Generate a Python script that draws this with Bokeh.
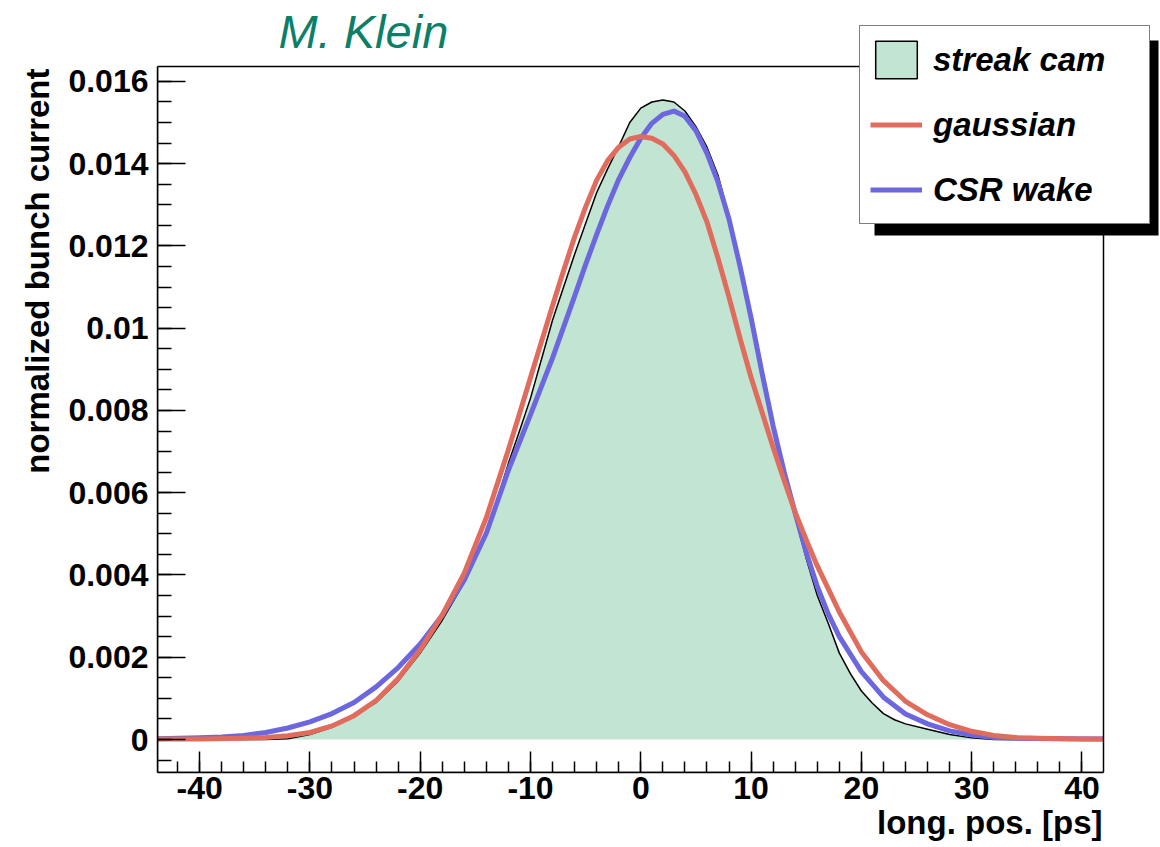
import math
from bokeh.plotting import figure
from bokeh.models import (Range1d, SingleIntervalTicker, CustomJSTickFormatter,
                          Legend, LegendItem, BoxAnnotation, Label, Title)
from bokeh.embed import file_html
from bokeh.resources import INLINE

# ---------------- data ----------------
streak_x = [-43.8, -34, -32, -30, -28, -26, -24, -22, -20, -18, -16, -15, -14, -13,
            -12, -11, -10, -9, -8, -7, -6, -5, -4, -3, -2, -1, 0, 1, 2, 3, 4, 5, 6,
            7, 8, 9, 10, 11, 12, 13, 14, 15, 16, 17, 18, 19, 20, 21, 22, 23, 24, 26,
            28, 30, 32, 41.9]
streak_y = [0, 0, 0.00002, 0.00012, 0.00030, 0.00058, 0.00090, 0.00142, 0.00210,
            0.00290, 0.00382, 0.00440, 0.00500, 0.00585, 0.00672, 0.00750, 0.00830,
            0.00925, 0.01020, 0.01100, 0.01180, 0.01255, 0.01330, 0.01388, 0.01442,
            0.01500, 0.01535, 0.01550, 0.01555, 0.01550, 0.01528, 0.01490, 0.01440,
            0.01372, 0.01270, 0.01162, 0.01030, 0.00885, 0.00752, 0.00642, 0.00540,
            0.00440, 0.00350, 0.00282, 0.00210, 0.00160, 0.00118, 0.00088, 0.00063,
            0.00048, 0.00038, 0.00025, 0.00012, 0.00004, 0, 0]

gauss_x = [-43.8, -40, -36, -34, -32, -30, -28, -26, -24, -22, -20, -18, -16, -14,
           -12, -11, -10, -9, -8, -7, -6, -5, -4, -3, -2, -1, 0, 1, 2, 3, 4, 5, 6,
           7, 8, 9, 10, 11, 12, 13, 14, 15, 16, 18, 20, 22, 24, 26, 28, 30, 32, 34,
           36, 40, 41.9]
gauss_y = [0.00001, 0.00001, 0.00003, 0.00005, 0.00009, 0.00017, 0.00033, 0.00058,
           0.00095, 0.00148, 0.00218, 0.00303, 0.00405, 0.00540, 0.00705, 0.00792,
           0.00880, 0.00968, 0.01055, 0.01140, 0.01222, 0.01295, 0.01360, 0.01408,
           0.01440, 0.01460, 0.01466, 0.01462, 0.01448, 0.01420, 0.01380, 0.01325,
           0.01258, 0.01170, 0.01075, 0.00975, 0.00880, 0.00795, 0.00710, 0.00630,
           0.00552, 0.00485, 0.00422, 0.00310, 0.00213, 0.00143, 0.00093, 0.00060,
           0.00036, 0.00020, 0.00010, 0.00005, 0.00003, 0.00001, 0.00001]

csr_x = [-43.8, -40, -38, -36, -34, -32, -30, -28, -26, -24, -22, -20, -18, -16,
         -14, -12, -10, -8, -6, -5, -4, -3, -2, -1, 0, 1, 2, 3, 4, 5, 6, 7, 8, 9,
         10, 11, 12, 13, 14, 15, 16, 17, 18, 20, 22, 24, 26, 28, 30, 32, 34, 38, 41.9]
csr_y = [0.00002, 0.00004, 0.00006, 0.00010, 0.00017, 0.00028, 0.00043, 0.00063,
         0.00090, 0.00128, 0.00175, 0.00232, 0.00302, 0.00388, 0.00502, 0.00655,
         0.00790, 0.00928, 0.01078, 0.01155, 0.01228, 0.01298, 0.01362, 0.01415,
         0.01462, 0.01498, 0.01520, 0.01528, 0.01515, 0.01480, 0.01425, 0.01355,
         0.01265, 0.01150, 0.01025, 0.00890, 0.00762, 0.00650, 0.00550, 0.00455,
         0.00372, 0.00305, 0.00250, 0.00165, 0.00103, 0.00062, 0.00038, 0.00021,
         0.00011, 0.00005, 0.00003, 0.00002, 0.00001]

series_labels = ["streak cam", "gaussian", "CSR wake"]
x_title = "long. pos. [ps]"
y_title = "normalized bunch current"
author = "M. Klein"

# axis extents of the drawn frame (ROOT pad) and the canvas extents around it
X_MIN, X_MAX = -43.82, 41.95
Y_MIN, Y_MAX = -0.000802, 0.016362
X_CANVAS_MAX = 47.118
Y_CANVAS_MAX = 0.017967

# ---------------- styles ----------------
FONT = "Liberation Sans"
FILL = "#c2e4d3"
RED = "#e06c5e"
BLUE = "#6c67de"
TEAL = "#0b7f68"

p = figure(width=1160, height=847, output_backend="svg", toolbar_location=None,
           title=None,
           x_range=Range1d(X_MIN, X_CANVAS_MAX), y_range=Range1d(Y_MIN, Y_CANVAS_MAX),
           min_border_left=157, min_border_right=0, min_border_top=0,
           min_border_bottom=75, background_fill_color="white",
           border_fill_color="white")
p.xgrid.visible = False
p.ygrid.visible = False
p.outline_line_color = None

# streak camera profile: filled area + black outline
p.varea(x=streak_x, y1=[0] * len(streak_x), y2=streak_y, fill_color=FILL)
p.line(x=streak_x, y=streak_y, line_color="black", line_width=1.5,
       line_join="round")
# swatch renderer for the legend (a single vertex: invisible in the plot)
swatch = p.patch(x=streak_x[:1], y=streak_y[:1], fill_color=FILL,
                 line_color="black", line_width=1.5)

r_csr = p.line(x=csr_x, y=csr_y, line_color=BLUE, line_width=5, line_join="round")
r_gauss = p.line(x=gauss_x, y=gauss_y, line_color=RED, line_width=5, line_join="round")

# frame box of the pad
p.add_layout(BoxAnnotation(left=X_MIN, right=X_MAX, bottom=Y_MIN, top=Y_MAX,
                           fill_color=None, fill_alpha=0, line_color="black",
                           line_alpha=1.0, line_width=1.5))

# ---------------- axes ----------------
xa = p.xaxis[0]
xa.ticker = SingleIntervalTicker(interval=10, num_minor_ticks=5)
xa.formatter = CustomJSTickFormatter(code="return tick.toFixed(0);")
xa.bounds = (X_MIN, X_MAX)
ya = p.yaxis[0]
ya.ticker = SingleIntervalTicker(interval=0.002, num_minor_ticks=4)
ya.formatter = CustomJSTickFormatter(code=r"return tick.toFixed(3).replace(/\.?0+$/, '');")
ya.bounds = (Y_MIN, Y_MAX)

for ax in (xa, ya):
    ax.axis_line_width = 1.5
    ax.major_tick_line_width = 1.5
    ax.minor_tick_line_width = 1.5
    ax.major_tick_out = 0
    ax.minor_tick_out = 0
    ax.major_label_text_font = FONT
    ax.major_label_text_font_style = "bold"
    ax.major_label_text_font_size = "32px"
    ax.major_label_text_color = "black"
xa.major_tick_in = 21
xa.minor_tick_in = 11
xa.major_label_standoff = 4
ya.major_tick_in = 28
ya.minor_tick_in = 14
ya.major_label_standoff = 9

# axis titles, aligned to the axis ends (ROOT style)
p.add_layout(Title(text=x_title, align="right", offset=58, standoff=0,
                   text_font=FONT, text_font_style="bold", text_font_size="33px",
                   text_color="black"), "below")
p.add_layout(Title(text=y_title, align="right", offset=68, standoff=20,
                   text_font=FONT, text_font_style="bold", text_font_size="33px",
                   text_color="black"), "left")

# author mark
p.add_layout(Label(x=121, y=741, x_units="screen", y_units="screen", text=author,
                   text_align="left", text_baseline="alphabetic",
                   text_font=FONT, text_font_style="italic", text_font_size="47px",
                   text_color=TEAL))

# ---------------- legend with shadow ----------------
shadow = BoxAnnotation(left=717, right=1001, top=732, bottom=537,
                       left_units="screen", right_units="screen",
                       top_units="screen", bottom_units="screen",
                       fill_color="black", fill_alpha=1.0, line_alpha=0)
p.add_layout(shadow)

legend = Legend(items=[LegendItem(label=series_labels[0], renderers=[swatch]),
                       LegendItem(label=series_labels[1], renderers=[r_gauss]),
                       LegendItem(label=series_labels[2], renderers=[r_csr])],
                location=(702, 548), orientation="vertical",
                glyph_width=52, glyph_height=47, label_width=206,
                label_standoff=11, spacing=18, padding=10, margin=0,
                border_line_color="black", border_line_width=1.5,
                background_fill_color="white", background_fill_alpha=1.0,
                label_text_font=FONT, label_text_font_style="bold italic",
                label_text_font_size="33px", label_text_color="black")
p.add_layout(legend, "center")

open("out.html", "w").write(file_html(p, INLINE))
